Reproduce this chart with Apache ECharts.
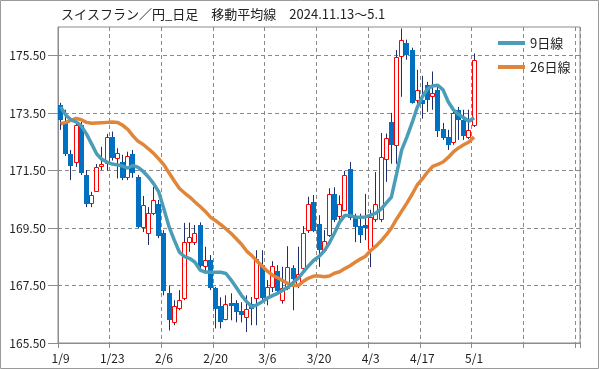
<!DOCTYPE html>
<html><head><meta charset="utf-8">
<script src="https://cdn.jsdelivr.net/npm/echarts@6/dist/echarts.min.js"></script>
<style>html,body{margin:0;padding:0;background:#fff}#c{width:599px;height:369px}</style>
</head><body><div id="c"></div>
<script>
const titleText = 'スイスフラン／円_日足　移動平均線　2024.11.13～5.1';
const dates = ['1/9','1/10','1/13','1/14','1/15','1/16','1/17','1/20','1/21','1/22',
 '1/23','1/24','1/27','1/28','1/29','1/30','1/31','2/3','2/4','2/5',
 '2/6','2/7','2/10','2/11','2/12','2/13','2/14','2/17','2/18','2/19',
 '2/20','2/21','2/24','2/25','2/26','2/27','2/28','3/3','3/4','3/5',
 '3/6','3/7','3/10','3/11','3/12','3/13','3/14','3/17','3/18','3/19',
 '3/20','3/21','3/24','3/25','3/26','3/27','3/28','3/31','4/1','4/2',
 '4/3','4/4','4/7','4/8','4/9','4/10','4/11','4/14','4/15','4/16',
 '4/17','4/18','4/21','4/22','4/23','4/24','4/25','4/28','4/29','4/30','5/1'];
const padSlots = 20;
const opens = [173.79,173.16,172.08,171.80,173.09,171.35,170.38,170.80,171.66,171.78,
 172.66,171.93,171.81,171.28,172.08,171.28,169.54,169.33,170.04,170.34,
 169.33,167.24,166.23,166.73,167.05,169.02,169.02,169.61,168.19,168.38,
 167.41,166.78,166.35,166.89,166.89,166.62,166.39,166.85,167.08,168.21,
 167.10,167.44,168.00,167.01,167.40,168.10,167.55,168.10,169.43,170.42,
 169.64,168.73,169.26,170.70,169.91,170.14,171.57,169.88,169.56,169.62,
 168.78,169.83,169.83,171.92,173.20,172.39,175.49,175.94,175.70,173.95,
 173.95,174.48,174.09,174.30,172.96,172.68,172.50,173.61,173.26,172.68,173.08];
const closes = [173.29,172.12,171.70,173.09,171.44,170.36,170.65,171.62,171.73,172.66,
 171.97,172.11,171.27,172.01,171.45,169.57,170.30,170.04,170.48,169.26,
 167.34,166.35,166.78,166.99,169.02,169.18,169.32,168.21,168.38,167.44,
 166.71,166.26,166.87,166.81,166.62,166.50,166.70,166.71,168.44,167.10,
 167.45,168.18,167.34,167.40,168.13,167.75,167.90,169.34,170.34,169.43,
 168.76,169.06,170.68,169.83,170.33,171.34,169.88,169.56,169.30,169.56,
 169.88,170.35,171.98,172.62,172.42,175.47,176.05,175.57,173.90,174.30,
 173.84,174.01,174.19,172.91,172.68,172.44,173.51,173.31,172.73,172.93,175.35];
const lows = [172.92,172.01,171.17,171.63,171.35,170.23,170.23,170.76,171.52,171.50,
 171.85,171.23,171.17,171.17,171.25,169.50,169.36,168.91,169.95,169.15,
 167.16,165.94,166.12,166.64,166.99,168.67,168.91,168.11,167.92,167.34,
 166.01,166.01,166.29,166.29,166.22,166.22,165.88,166.12,166.12,166.99,
 166.81,167.27,167.23,166.87,167.34,166.64,167.41,168.04,169.33,169.36,
 168.15,168.66,169.19,169.71,169.78,170.11,169.78,169.01,168.98,169.08,
 168.14,169.71,169.71,171.11,171.74,171.74,174.07,175.36,173.83,173.79,
 173.31,173.55,173.62,172.67,172.57,172.22,172.40,172.57,172.57,172.60,173.02];
const highs = [173.86,173.62,172.22,173.20,173.20,171.52,170.76,171.73,172.33,172.78,
 172.86,172.28,172.05,172.16,172.22,171.35,170.62,170.23,170.93,170.48,
 169.43,167.51,166.99,167.34,169.68,169.69,169.61,169.70,168.85,168.56,
 167.45,167.09,167.16,167.23,166.99,166.92,167.16,167.10,168.73,168.73,
 167.69,168.35,168.21,168.15,168.87,168.21,168.85,169.57,170.59,170.65,
 169.95,169.43,170.89,170.92,170.64,171.49,171.80,170.00,170.00,170.69,
 170.14,171.45,172.81,172.79,173.51,175.70,176.45,176.06,175.78,175.01,
 174.80,174.59,174.95,174.49,173.16,172.92,173.62,173.72,173.62,173.62,175.58];
const ma9 = [173.72,173.44,173.27,173.20,173.06,172.78,172.43,172.08,171.89,171.80,
 171.73,171.70,171.66,171.59,171.68,171.61,171.47,171.28,171.05,170.76,
 170.16,169.54,169.08,168.66,168.51,168.44,168.31,168.04,167.97,167.96,
 167.96,167.96,167.92,167.69,167.43,167.16,166.94,166.76,166.83,166.94,
 167.06,167.15,167.23,167.34,167.44,167.60,167.76,167.98,168.19,168.38,
 168.51,168.70,168.98,169.33,169.71,169.94,169.94,169.88,169.88,169.89,
 169.95,170.02,170.16,170.37,170.58,171.38,172.22,172.67,173.16,173.70,
 174.07,174.35,174.45,174.47,174.31,173.90,173.62,173.46,173.34,173.22,173.34];
const ma26 = [173.13,173.18,173.25,173.32,173.27,173.18,173.15,173.16,173.17,173.18,
 173.19,173.18,173.08,172.94,172.71,172.52,172.41,172.26,172.10,171.91,
 171.70,171.42,171.14,170.88,170.72,170.58,170.41,170.25,170.08,169.88,
 169.76,169.62,169.47,169.31,169.13,168.94,168.70,168.54,168.35,168.18,
 168.00,167.86,167.77,167.67,167.57,167.50,167.50,167.65,167.76,167.83,
 167.83,167.81,167.83,167.93,167.98,168.09,168.19,168.31,168.42,168.52,
 168.72,168.87,169.05,169.26,169.50,169.81,170.09,170.37,170.67,171.00,
 171.21,171.45,171.65,171.72,171.80,171.96,172.15,172.29,172.40,172.50,172.67];
const yMin = 165.5, yMax = 176.5, yStep = 2;
const yTicks = [165.5, 167.5, 169.5, 171.5, 173.5, 175.5];
const labelEvery = 10;

const categories = dates.slice();
for (let k = 0; k < padSlots; k++) categories.push('_' + k);
const candleData = dates.map((d, i) => [i, opens[i], closes[i], lows[i], highs[i]]);

const UP = '#ff0000', DOWN = '#0070c0', WICK = '#1f2f6b';
function renderCandle(params, api) {
  const i = api.value(0), o = api.value(1), c = api.value(2), l = api.value(3), h = api.value(4);
  const pO = api.coord([i, o]), pC = api.coord([i, c]), pL = api.coord([i, l]), pH = api.coord([i, h]);
  const cx = Math.floor(pO[0]) + 0.5;
  const top = Math.round(Math.min(pO[1], pC[1])) + 0.5;
  const bot = Math.max(Math.round(Math.max(pO[1], pC[1])) + 0.5, top + 2);
  const up = c >= o;
  const children = [
    {type: 'line', shape: {x1: cx, y1: pH[1], x2: cx, y2: top}, style: {stroke: WICK, lineWidth: 1}},
    {type: 'line', shape: {x1: cx, y1: bot, x2: cx, y2: pL[1]}, style: {stroke: WICK, lineWidth: 1}}
  ];
  if (up) {
    children.push({type: 'rect', shape: {x: cx - 2, y: top, width: 4, height: bot - top},
      style: {fill: '#fff', stroke: UP, lineWidth: 1}});
  } else {
    children.push({type: 'rect', shape: {x: cx - 2.5, y: top - 0.5, width: 5, height: bot - top + 1},
      style: {fill: DOWN}});
  }
  return {type: 'group', children};
}

const chart = echarts.init(document.getElementById('c'), null, {renderer: 'canvas'});
const isTick = (idx) => idx % labelEvery === 0;
chart.setOption({
  animation: false,
  backgroundColor: '#fff',
  title: {text: titleText, left: 61, top: 8, padding: 0,
    textStyle: {fontSize: 13, fontWeight: 'normal', color: '#222', fontFamily: 'Noto Sans CJK JP'}},
  legend: {
    data: ['9日線', '26日線'], orient: 'vertical', left: 498, top: 36, padding: 0,
    icon: 'rect', itemWidth: 27, itemHeight: 4, itemGap: 10,
    textStyle: {fontSize: 13, lineHeight: 14, color: '#222', fontFamily: 'Noto Sans CJK JP'}
  },
  graphic: [{type: 'rect', shape: {x: 0.5, y: 0.5, width: 598, height: 368},
    style: {fill: 'none', stroke: '#9a9a9a', lineWidth: 1}, silent: true}],
  grid: {left: 58, right: 19, top: 27, bottom: 26, show: true, borderColor: '#8c8c8c', borderWidth: 1, backgroundColor: 'transparent'},
  xAxis: {
    type: 'category', data: categories, boundaryGap: true,
    axisLine: {lineStyle: {color: '#8c8c8c'}},
    axisTick: {show: true, interval: (idx) => isTick(idx), length: 5, lineStyle: {color: '#8c8c8c'}},
    axisLabel: {interval: (idx) => isTick(idx), margin: 9, fontSize: 12, color: '#222', fontFamily: 'Noto Sans CJK JP',
      formatter: (v) => v.charAt(0) === '_' ? '' : v},
    splitLine: {show: true, interval: (idx) => isTick(idx), lineStyle: {color: '#8a8a8a', type: [4, 3]}}
  },
  yAxis: {
    type: 'value', min: yMin, max: yMax, interval: yStep, scale: true,
    axisLine: {show: true, lineStyle: {color: '#8c8c8c'}},
    axisTick: {show: true, length: 10, customValues: yTicks, lineStyle: {color: '#8c8c8c'}},
    axisLabel: {margin: 12, fontSize: 12, color: '#222', fontFamily: 'Noto Sans CJK JP', customValues: yTicks,
      formatter: (v) => v.toFixed(2)},
    splitLine: {show: true, lineStyle: {color: '#8a8a8a', type: [4, 3]}}
  },
  series: [
    {type: 'custom', name: 'candle', renderItem: renderCandle, data: candleData,
      encode: {x: 0, y: [1, 2, 3, 4]}, z: 2, clip: true},
    {type: 'line', name: '26日線', data: ma26, showSymbol: false, symbol: 'none', z: 3,
      lineStyle: {color: '#e0863a', width: 3.5}, itemStyle: {color: '#e0863a'}},
    {type: 'line', name: '9日線', data: ma9, showSymbol: false, symbol: 'none', z: 4,
      lineStyle: {color: '#4a9db6', width: 3.5}, itemStyle: {color: '#4a9db6'}}
  ]
});
</script></body></html>
